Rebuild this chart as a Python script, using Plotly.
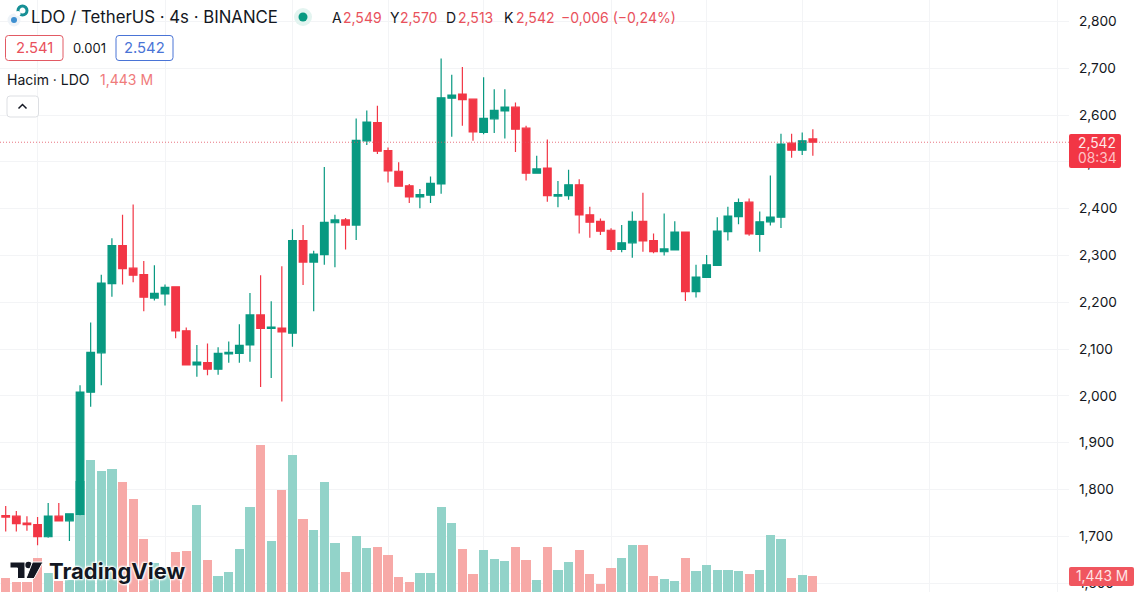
import plotly.graph_objects as go

opens = [1.744, 1.743, 1.728, 1.725, 1.699, 1.743, 1.733, 1.747, 2.008, 2.092, 2.240, 2.321, 2.273, 2.259, 2.209, 2.218,
         2.233, 2.139, 2.066, 2.071, 2.057, 2.090, 2.091, 2.109, 2.173, 2.144, 2.145, 2.134, 2.332, 2.286, 2.302, 2.370,
         2.376, 2.365, 2.545, 2.584, 2.524, 2.480, 2.449, 2.425, 2.429, 2.453, 2.636, 2.645, 2.634, 2.563, 2.592, 2.609,
         2.617, 2.572, 2.476, 2.487, 2.427, 2.428, 2.451, 2.387, 2.373, 2.354, 2.313, 2.327, 2.373, 2.332, 2.308, 2.312,
         2.350, 2.223, 2.253, 2.279, 2.351, 2.383, 2.414, 2.345, 2.372, 2.382, 2.540, 2.525, 2.549]
highs = [1.765, 1.754, 1.743, 1.741, 1.771, 1.771, 1.748, 2.023, 2.157, 2.259, 2.337, 2.387, 2.409, 2.288, 2.279, 2.238,
         2.234, 2.146, 2.109, 2.112, 2.104, 2.116, 2.153, 2.220, 2.258, 2.202, 2.277, 2.356, 2.365, 2.310, 2.489, 2.387,
         2.380, 2.593, 2.610, 2.620, 2.531, 2.499, 2.453, 2.442, 2.469, 2.721, 2.686, 2.703, 2.635, 2.681, 2.655, 2.655,
         2.627, 2.577, 2.513, 2.548, 2.459, 2.483, 2.463, 2.404, 2.379, 2.358, 2.365, 2.394, 2.434, 2.347, 2.390, 2.373,
         2.351, 2.280, 2.301, 2.382, 2.404, 2.422, 2.422, 2.394, 2.471, 2.560, 2.560, 2.563, 2.570]
lows = [1.710, 1.710, 1.712, 1.681, 1.697, 1.733, 1.690, 1.745, 1.977, 2.023, 2.212, 2.238, 2.243, 2.181, 2.204, 2.193,
        2.123, 2.065, 2.041, 2.044, 2.045, 2.071, 2.071, 2.073, 2.019, 2.038, 1.988, 2.105, 2.237, 2.181, 2.280, 2.275,
        2.313, 2.333, 2.536, 2.517, 2.456, 2.448, 2.412, 2.401, 2.412, 2.432, 2.554, 2.577, 2.545, 2.559, 2.562, 2.550,
        2.521, 2.460, 2.476, 2.415, 2.403, 2.419, 2.347, 2.338, 2.344, 2.308, 2.307, 2.295, 2.308, 2.305, 2.300, 2.312,
        2.203, 2.210, 2.253, 2.279, 2.332, 2.367, 2.342, 2.308, 2.364, 2.359, 2.509, 2.515, 2.513]
closes = [1.741, 1.727, 1.725, 1.699, 1.743, 1.733, 1.748, 2.008, 2.093, 2.241, 2.321, 2.272, 2.258, 2.211, 2.219, 2.232,
          2.139, 2.066, 2.072, 2.057, 2.091, 2.093, 2.108, 2.173, 2.144, 2.147, 2.137, 2.332, 2.286, 2.303, 2.371, 2.376,
          2.365, 2.546, 2.585, 2.523, 2.481, 2.448, 2.425, 2.430, 2.454, 2.637, 2.643, 2.633, 2.564, 2.593, 2.610, 2.617,
          2.570, 2.476, 2.485, 2.428, 2.430, 2.451, 2.387, 2.371, 2.352, 2.313, 2.327, 2.373, 2.331, 2.308, 2.314, 2.350,
          2.223, 2.254, 2.280, 2.352, 2.384, 2.413, 2.346, 2.372, 2.382, 2.538, 2.525, 2.545, 2.542]
volumes = [1.30, 1.10, 1.10, 2.53, 1.64, 1.14, 1.20, 7.16, 8.42, 7.74, 7.86, 7.10, 6.09, 3.65, 2.21, 1.92,
           2.90, 2.95, 5.71, 2.41, 1.44, 1.70, 3.07, 5.59, 9.30, 3.53, 6.63, 8.72, 4.87, 4.21, 7.08, 3.41,
           1.70, 3.87, 3.13, 3.19, 2.71, 1.38, 1.10, 1.64, 1.64, 5.61, 4.61, 3.07, 1.58, 2.99, 2.48, 2.35,
           3.21, 2.41, 1.20, 3.19, 1.79, 2.29, 3.01, 1.58, 0.98, 1.94, 2.54, 3.31, 3.29, 1.44, 1.28, 1.14,
           2.54, 1.73, 2.10, 1.79, 1.79, 1.73, 1.56, 1.80, 3.91, 3.67, 1.34, 1.50, 1.443]
grid_bars = [3, 15, 27, 36, 45, 57, 66, 75, 87, 99]
price_ticks = [1.6, 1.7, 1.8, 1.9, 2.0, 2.1, 2.2, 2.3, 2.4, 2.5, 2.6, 2.7, 2.8]
price_labels = ['1,600', '1,700', '1,800', '1,900', '2,000', '2,100', '2,200', '2,300', '2,400', '2,500', '2,600',
                '2,700', '2,800']

GREEN = '#089981'
RED = '#F23645'
DARK = '#131722'
TEXT_RED = '#E9515C'
GRID = '#F3F4F6'
FONT = 'Inter'

W, H = 1140, 592
PLOT_W = 1069
bars = list(range(len(closes)))


def px(x):
    return x / PLOT_W


def py(y):
    return 1 - y / H


def rounded(x0, y0, x1, y1, r):
    return (f'M {px(x0 + r)} {py(y0)} L {px(x1 - r)} {py(y0)} Q {px(x1)} {py(y0)} {px(x1)} {py(y0 + r)} '
            f'L {px(x1)} {py(y1 - r)} Q {px(x1)} {py(y1)} {px(x1 - r)} {py(y1)} L {px(x0 + r)} {py(y1)} '
            f'Q {px(x0)} {py(y1)} {px(x0)} {py(y1 - r)} L {px(x0)} {py(y0 + r)} Q {px(x0)} {py(y0)} {px(x0 + r)} {py(y0)} Z')


def poly(points):
    return 'M ' + ' L '.join(f'{px(x)} {py(y)}' for x, y in points) + ' Z'


def box(x0, y0, x1, y1, r, line, fill='white'):
    return dict(type='path', xref='paper', yref='paper', path=rounded(x0, y0, x1, y1, r), fillcolor=fill,
                line=dict(color=line, width=1), layer='above')


def dot(cx, cy, r, fill, line=None, width=0):
    return dict(type='circle', xref='paper', yref='paper', x0=px(cx - r), x1=px(cx + r), y0=py(cy + r), y1=py(cy - r),
                fillcolor=fill, line=dict(color=line or fill, width=width), layer='above')


def label(x, y, text, size=13, color=DARK, anchor='left', **font):
    return dict(xref='paper', yref='paper', x=px(x), y=py(y), text=text, showarrow=False, xanchor=anchor,
                yanchor='middle', font=dict(family=FONT, size=size, color=color, **font), borderpad=0)


fig = go.Figure()
fig.add_trace(go.Bar(
    x=bars, y=volumes, yaxis='y', width=0.87, showlegend=False,
    marker=dict(color=['#92D3C9' if c >= o else '#F7A9A7' for o, c in zip(opens, closes)], line_width=0),
))
fig.add_trace(go.Candlestick(
    x=bars, open=opens, high=highs, low=lows, close=closes, yaxis='y2', showlegend=False, whiskerwidth=0,
    increasing=dict(line=dict(color=GREEN, width=1.2), fillcolor=GREEN),
    decreasing=dict(line=dict(color=RED, width=1.2), fillcolor=RED),
))

shapes = [
    # last price line
    dict(type='line', xref='paper', yref='y2', x0=0, x1=1, y0=closes[-1], y1=closes[-1],
         line=dict(color='rgba(226,80,95,0.8)', width=1, dash='1px,2px'), layer='above'),
    # symbol icon
    dot(14, 20, 6.5, '#EEF3F8'),
    dot(14, 20, 3, '#3E8FD0'),
    dot(22.5, 10.5, 4.5, 'white', '#168F95', 3),
    dot(18, 13.5, 2.6, 'white'),
    # status dot
    dot(303, 17, 9, '#E3F4F0'),
    dot(303, 17, 4.5, GREEN),
    # bid / ask boxes
    box(5.5, 35.5, 63, 60.5, 3, '#E25A64'),
    box(116, 35.5, 173, 60.5, 3, '#4A74D6'),
    box(7, 96, 38.5, 117, 3, '#DDDFE3'),
    dict(type='path', xref='paper', yref='paper', layer='above', line=dict(color=DARK, width=1.5),
         path=f'M {px(18.5)} {py(108.5)} L {px(22.5)} {py(104.5)} L {px(26.5)} {py(108.5)}'),
    # right side tags
    dict(type='path', xref='paper', yref='paper', path=rounded(1069, 134, 1121, 168, 2), fillcolor=RED,
         line_width=0, layer='above'),
    dict(type='path', xref='paper', yref='paper', path=rounded(1069, 567, 1134, 586, 2), fillcolor='#F0565F',
         line_width=0, layer='above'),
    # TradingView mark
    dict(type='path', xref='paper', yref='paper', fillcolor=DARK, line=dict(color='white', width=1), layer='above',
         path=poly([(10, 562), (25, 562), (25, 578.5), (17.5, 578.5), (17.5, 568), (10, 568)])),
    dot(28.5, 565, 3.2, DARK),
    dict(type='path', xref='paper', yref='paper', fillcolor=DARK, line=dict(color='white', width=1), layer='above',
         path=poly([(32.5, 562), (43, 562), (34, 578.5), (26, 578.5)])),
]

tl_shadow = '0 0 2px #fff, 0 0 3px #fff, 1px 1px 2px #fff, -1px -1px 2px #fff'
annotations = [
    label(30, 17, 'LDO / TetherUS · 4s · BINANCE', size=16.8),
    label(331, 17.5, 'A', size=14),
    label(342, 17.5, '2,549', size=14, color=TEXT_RED),
    label(389, 17.5, 'Y', size=14),
    label(399, 17.5, '2,570', size=14, color=TEXT_RED),
    label(445, 17.5, 'D', size=14),
    label(457, 17.5, '2,513', size=14, color=TEXT_RED),
    label(503, 17.5, 'K', size=14),
    label(515, 17.5, '2,542', size=14, color=TEXT_RED),
    label(560, 17.5, '−0,006 (−0,24%)', size=14, color=TEXT_RED),
    label(34, 48, '2.541', size=14.8, color=TEXT_RED, anchor='center'),
    label(89, 48, '0.001', size=13, anchor='center'),
    label(144.5, 48, '2.542', size=14.8, color='#4A74D6', anchor='center'),
    label(6, 79, 'Hacim · LDO', size=14),
    label(99, 79, '1,443 M', size=14, color='#EF7B7B'),
    label(1097, 143, '2,542', size=13.8, color='#FFE9EA', anchor='center'),
    label(1097, 158, '08:34', size=13.8, color='#FFC2C6', anchor='center'),
    label(1102, 576, '1,443 M', size=13.8, color='#FFE3E4', anchor='center'),
    label(48, 571, 'TradingView', size=22, weight=700, shadow=tl_shadow),
]

fig.update_layout(
    width=W, height=H, margin=dict(l=0, r=W - PLOT_W, t=0, b=0), plot_bgcolor='white', paper_bgcolor='white',
    showlegend=False, bargap=0, boxgap=0.28, boxgroupgap=0, shapes=shapes, annotations=annotations, hovermode=False,
    xaxis=dict(range=[-0.537, 100.12], rangeslider_visible=False, showticklabels=False,
               tickmode='array', tickvals=grid_bars, showgrid=True, gridcolor=GRID, gridwidth=1, ticks='',
               zeroline=False, showline=False),
    yaxis=dict(range=[0.481, 36.08], visible=False, showgrid=False, zeroline=False),
    yaxis2=dict(range=[1.58099, 2.84594], overlaying='y', side='right', anchor='x', tickmode='array',
                tickvals=price_ticks, ticktext=price_labels, showgrid=True, gridcolor=GRID, gridwidth=1,
                zeroline=False, showline=False, ticks='', ticklabelstandoff=9,
                tickfont=dict(family=FONT, size=13.7, color=DARK)),
)

fig.write_html('out.html', post_script="document.body.style.margin='0';", config=dict(displayModeBar=False))
